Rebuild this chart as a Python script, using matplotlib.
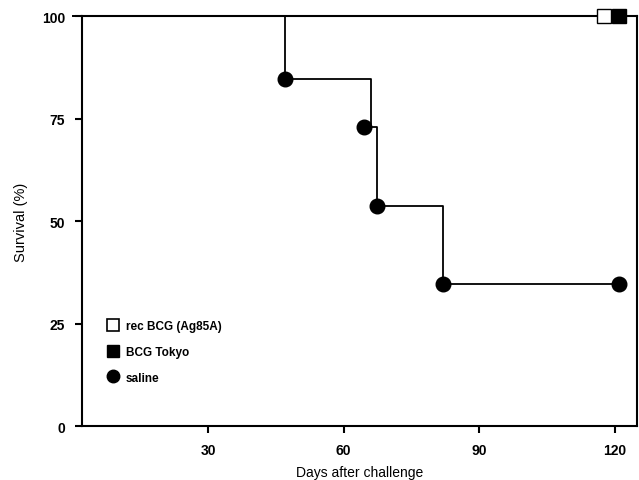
import matplotlib.pyplot as plt
from matplotlib.lines import Line2D

plt.rcParams['font.family'] = ['Liberation Sans', 'DejaVu Sans']

# Survival data (days after challenge, % surviving)
saline_step_days = [0, 47, 66, 67.5, 82, 121]
saline_step_surv = [100, 84.6, 73.1, 53.8, 34.6, 34.6]
saline_marker_days = [47, 64.5, 67.5, 82, 121]
saline_marker_surv = [84.6, 73.1, 53.8, 34.6, 34.6]

bcg_days = [0, 121]
bcg_surv = [100, 100]
rec_marker_day = 117.7
tokyo_marker_day = 121

xticks = [30, 60, 90, 120]
yticks = [0, 25, 50, 75, 100]

fig = plt.figure(figsize=(6.39, 4.81), dpi=100)
ax = fig.add_axes([0.128, 0.112, 0.869, 0.852])

# BCG groups stay at 100 %
ax.plot(bcg_days, bcg_surv, color='black', lw=1.3, clip_on=False)
ax.plot([tokyo_marker_day], [100], marker='s', ms=10, color='black',
        mec='black', ls='none', clip_on=False, zorder=4)
ax.plot([rec_marker_day], [100], marker='s', ms=10, mfc='white',
        mec='black', mew=1.0, ls='none', clip_on=False, zorder=5)

# saline group
ax.step(saline_step_days, saline_step_surv, where='post', color='black',
        lw=1.3, clip_on=False)
ax.plot(saline_marker_days, saline_marker_surv, 'o', color='black', ms=10.5,
        clip_on=False, zorder=5)

ax.set_xlim(2, 125)
ax.set_ylim(0, 100)
ax.set_xticks(xticks)
ax.set_yticks(yticks)
ax.tick_params(direction='out', length=5, width=1.5, pad=7, labelsize=10)
for lab in ax.get_xticklabels() + ax.get_yticklabels():
    lab.set_fontweight('bold')
for sp in ax.spines.values():
    sp.set_linewidth(1.5)

ax.set_xlabel('Days after challenge', fontsize=10, labelpad=6)
ax.set_ylabel('Survival (%)', fontsize=10.5, labelpad=10)

handles = [
    Line2D([], [], marker='s', ls='none', mfc='white', mec='black', mew=1.2, ms=8.5),
    Line2D([], [], marker='s', ls='none', color='black', ms=8.5),
    Line2D([], [], marker='o', ls='none', color='black', ms=9),
]
labels = ['rec BCG (Ag85A)', 'BCG Tokyo', 'saline']
leg = ax.legend(handles, labels, loc='lower left', bbox_to_anchor=(0.025, 0.078),
                frameon=False, handletextpad=0.45, labelspacing=1.15,
                handlelength=1.2, prop={'size': 8.5, 'weight': 'bold'})

fig.savefig('out.png', dpi=100)
